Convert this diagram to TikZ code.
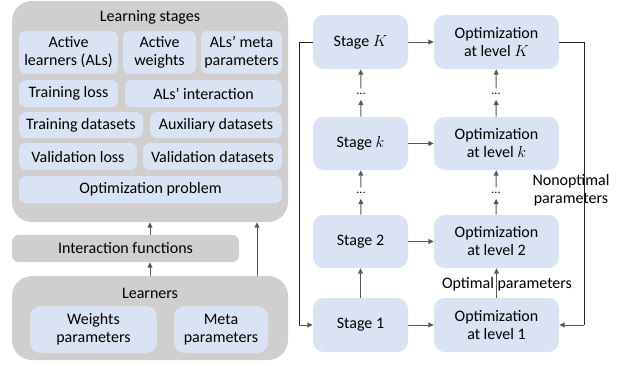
\documentclass[tikz,border=0pt]{standalone}
\usepackage{fontspec}
\setmainfont{Carlito}
\usetikzlibrary{arrows.meta}

\definecolor{panelgray}{HTML}{D0CECE}
\definecolor{cellblue}{HTML}{DAE3F3}
\definecolor{wire}{HTML}{595959}

% box given by its corners (x1,y1) and (x2,y2), in pixel units
\newcommand\pbox[7][]{%
  \node[#1, minimum width={(#5-#3)*0.75pt}, minimum height={(#6-#4)*0.75pt}]
    (#2) at ({(#3+#5)/2},{(#4+#6)/2}) {#7};}

\begin{document}
\begin{tikzpicture}[x=0.75pt, y=-0.75pt,
  every node/.style={font=\fontsize{12}{13.5}\selectfont, align=center, inner sep=1pt},
  panel/.style={fill=panelgray, draw=none, rounded corners=15pt},
  cell/.style={fill=cellblue, draw=none, rounded corners=5pt},
  ellip/.style={font=\fontsize{9}{9}\selectfont, inner xsep=1pt, inner ysep=3.5pt, text height=1.2pt, text depth=0pt},
  flow/.style={draw=wire, line width=0.75pt, -{Triangle[length=4pt,width=3.6pt]}},
  loop/.style={draw=black!85, line width=0.75pt}]
\useasboundingbox (0,0) rectangle (621,365);

% ---- learning stages panel ----
\pbox[panel]{stages}{12}{1}{288}{222}{}
\node (stitle) at (150,17) {Learning stages};
\pbox[cell]{al}{19}{31}{118}{74}{Active\\learners (ALs)}
\pbox[cell]{aw}{123}{31}{196}{74}{Active\\weights}
\pbox[cell]{am}{201}{31}{282}{74}{ALs’ meta\\parameters}
\pbox[cell]{tl}{19}{80}{118}{107}{Training loss}
\pbox[cell]{ai}{125}{80}{282}{107}{ALs’ interaction}
\pbox[cell]{td}{19}{112}{143}{138}{Training datasets}
\pbox[cell]{ad}{150}{112}{282}{138}{Auxiliary datasets}
\pbox[cell]{vl}{19}{143}{137}{170}{Validation loss}
\pbox[cell]{vd}{143}{143}{282}{170}{Validation datasets}
\pbox[cell]{op}{19}{176}{282}{203}{Optimization problem}

% ---- interaction functions ----
\pbox[panel, rounded corners=5pt]{inter}{12}{235}{239}{262}{Interaction functions}

% ---- learners panel ----
\pbox[panel]{learn}{12}{276}{288}{360}{}
\node (ltitle) at (150,293) {Learners};
\pbox[cell, rounded corners=8pt]{wp}{30}{306}{157}{353}{Weights\\parameters}
\pbox[cell, rounded corners=8pt]{mp}{174}{306}{268}{353}{Meta\\parameters}

\draw[flow] (learn.north -| 150,0) -- (inter.south -| 150,0);
\draw[flow] (inter.north -| 150,0) -- (stages.south -| 150,0);
\draw[flow] (learn.north -| 257,0) -- (stages.south -| 257,0);

% ---- stage column ----
\pbox[cell, rounded corners=8pt]{sK}{313}{15}{408}{69}{Stage $K$}
\pbox[cell, rounded corners=8pt]{sk}{313}{117}{408}{170}{Stage $k$}
\pbox[cell, rounded corners=8pt]{s2}{313}{215}{408}{268}{Stage 2}
\pbox[cell, rounded corners=8pt]{s1}{313}{298}{408}{352}{Stage 1}

% ---- optimization column ----
\pbox[cell, rounded corners=8pt]{oK}{434}{15}{559}{69}{Optimization\\at level $K$}
\pbox[cell, rounded corners=8pt]{ok}{434}{117}{559}{170}{Optimization\\at level $k$}
\pbox[cell, rounded corners=8pt]{o2}{434}{215}{559}{268}{Optimization\\at level 2}
\pbox[cell, rounded corners=8pt]{o1}{434}{298}{559}{352}{Optimization\\at level 1}

% ellipses between levels
\node[ellip] (dsA) at (361,94) {...};
\node[ellip] (dsB) at (361,193) {...};
\node[ellip] (doA) at (496,94) {...};
\node[ellip] (doB) at (496,193) {...};

% vertical flow
\draw[flow] (s1) -- (s2);
\draw[flow] (s2) -- (dsB);
\draw[flow] (dsB) -- (sk);
\draw[flow] (sk) -- (dsA);
\draw[flow] (dsA) -- (sK);
\draw[flow] (o1) -- (o2);
\draw[flow] (o2) -- (doB);
\draw[flow] (doB) -- (ok);
\draw[flow] (ok) -- (doA);
\draw[flow] (doA) -- (oK);

% horizontal flow
\draw[flow] (sK) -- (oK);
\draw[flow] (sk) -- (ok);
\draw[flow] (s2) -- (o2);
\draw[flow] (s1) -- (o1);

% feedback loops
\coordinate (lx) at (299,0);
\coordinate (rx) at (584,0);
\draw[loop] (sK.west) -| (lx |- s1.west);
\draw[flow] (lx |- s1.west) -- (s1.west);
\draw[loop] (oK.east) -| (rx |- o1.east);
\draw[flow] (rx |- o1.east) -- (o1.east);

% labels
\node (optlab) at (507,284) {Optimal parameters};
\node (nonlab) at (571,190) {Nonoptimal\\parameters};
\end{tikzpicture}
\end{document}
